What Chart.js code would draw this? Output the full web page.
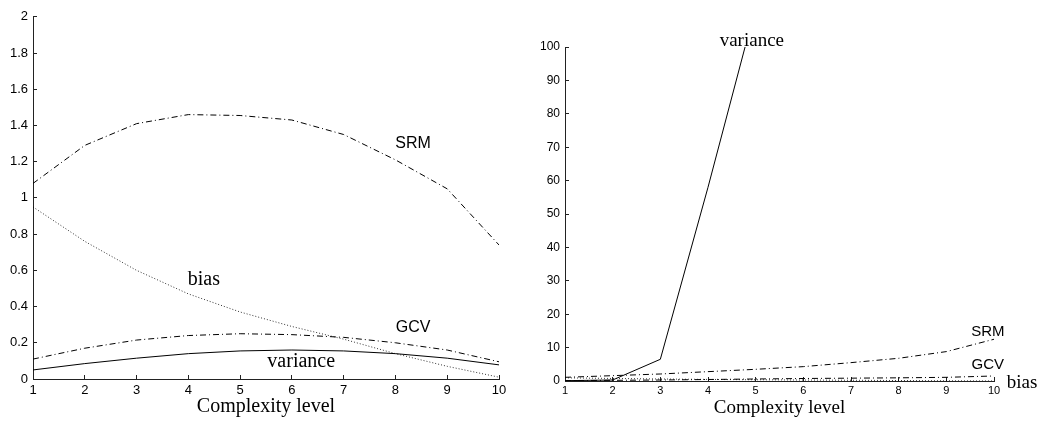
<!DOCTYPE html>
<html>
<head>
<meta charset="utf-8">
<script src="https://cdn.jsdelivr.net/npm/chart.js@4.4.1/dist/chart.umd.min.js"></script>
<style>
    html, body { margin: 0; padding: 0; background: #fff; }
    #wrap { position: relative; width: 1041px; height: 421px; }
    #left-chart { position: absolute; left: 0; top: 0; }
    #right-chart { position: absolute; left: 520px; top: 0; }
</style>
</head>
<body>
<div id="wrap">
    <canvas id="left-chart" width="520" height="421"></canvas>
    <canvas id="right-chart" width="521" height="421"></canvas>
</div>
<script>
////////////////////////////////////////////////////////////////////////////////
// Data
////////////////////////////////////////////////////////////////////////////////

const levels = [1, 2, 3, 4, 5, 6, 7, 8, 9, 10];

// left panel
const leftSrm      = [1.08, 1.29, 1.41, 1.46, 1.455, 1.43, 1.35, 1.21, 1.05, 0.74];
const leftBias     = [0.95, 0.76, 0.60, 0.47, 0.37, 0.29, 0.22, 0.14, 0.07, 0.01];
const leftGcv      = [0.11, 0.17, 0.215, 0.24, 0.25, 0.245, 0.23, 0.20, 0.16, 0.095];
const leftVariance = [0.05, 0.085, 0.115, 0.14, 0.155, 0.16, 0.155, 0.14, 0.115, 0.078];

// right panel (variance runs off the top after level 4)
const rightVariance = [0.1, 0.3, 6.5, 58, 112, null, null, null, null, null];
const rightSrm      = [1.1, 1.6, 2.1, 2.8, 3.5, 4.3, 5.5, 6.8, 8.8, 12.5];
const rightGcv      = [0.1, 0.2, 0.3, 0.45, 0.6, 0.75, 0.85, 0.95, 1.1, 1.5];
const rightBias     = [0.95, 0.76, 0.60, 0.47, 0.37, 0.29, 0.22, 0.14, 0.07, 0.01];

const leftYTicks = { max: 2, step: 0.2 };
const rightYTicks = { max: 100, step: 10 };

////////////////////////////////////////////////////////////////////////////////
// Helpers
////////////////////////////////////////////////////////////////////////////////

const SANS = '"Liberation Sans", Arial, sans-serif';
const SERIF = '"Liberation Serif", "Times New Roman", serif';
const DASHDOT = [6, 3, 1, 3];
const DOTTED = [1, 2];

function points(values) {
    return levels.map((lv, i) => ({ x: lv, y: values[i] }));
}

function line(values, dash, width) {
    return {
        data: points(values),
        borderColor: '#000',
        borderWidth: width || 1,
        borderDash: dash || [],
        pointRadius: 0,
        tension: 0,
        fill: false
    };
}

// MATLAB style labels: 2 not 2.0
function plainNumber(v) {
    return String(Number(v.toFixed(1)));
}

// text labels placed at data coordinates
const notesPlugin = {
    id: 'notes',
    afterDatasetsDraw(chart, args, opts) {
        const { ctx, scales } = chart;
        ctx.save();
        ctx.fillStyle = '#000';
        ctx.textAlign = 'center';
        ctx.textBaseline = 'middle';
        (opts.items || []).forEach(n => {
            ctx.font = n.font;
            ctx.fillText(n.text, scales.x.getPixelForValue(n.x), scales.y.getPixelForValue(n.y));
        });
        ctx.restore();
    }
};

function buildChart(canvasId, datasets, yTicks, cfg) {
    return new Chart(document.getElementById(canvasId), {
        type: 'line',
        data: { datasets: datasets },
        plugins: [notesPlugin],
        options: {
            responsive: false,
            animation: false,
            layout: { padding: cfg.padding },
            plugins: {
                legend: { display: false },
                tooltip: { enabled: false },
                notes: { items: cfg.notes }
            },
            scales: {
                x: {
                    type: 'linear',
                    min: 1,
                    max: 10,
                    afterFit: s => { s.height = cfg.xHeight; },
                    border: { display: true, color: '#222', width: 1 },
                    grid: { drawOnChartArea: false, tickLength: -4, color: '#222' },
                    ticks: {
                        stepSize: 1,
                        padding: cfg.xPad,
                        maxRotation: 0,
                        color: '#000',
                        font: { family: SANS, size: cfg.xTickSize }
                    },
                    title: {
                        display: true,
                        text: 'Complexity level',
                        color: '#000',
                        font: { family: SERIF, size: cfg.titleSize },
                        padding: { top: 0, bottom: cfg.titlePad }
                    }
                },
                y: {
                    min: 0,
                    max: yTicks.max,
                    afterFit: s => { s.width = cfg.yWidth; },
                    border: { display: true, color: '#222', width: 1 },
                    grid: { drawOnChartArea: false, tickLength: -4, color: '#222' },
                    ticks: {
                        stepSize: yTicks.step,
                        padding: 9,
                        color: '#000',
                        font: { family: SANS, size: cfg.yTickSize },
                        callback: plainNumber
                    }
                }
            }
        }
    });
}

////////////////////////////////////////////////////////////////////////////////
// Left panel
////////////////////////////////////////////////////////////////////////////////

let leftChart = buildChart('left-chart', [
    line(leftSrm, DASHDOT),
    line(leftBias, DOTTED, 0.8),
    line(leftGcv, DASHDOT),
    line(leftVariance)
], leftYTicks, {
    padding: { left: 0, top: 13, right: 21, bottom: 0 },
    xHeight: 42,
    yWidth: 33,
    xPad: 8,
    xTickSize: 13,
    yTickSize: 13,
    titleSize: 20,
    titlePad: 2,
    notes: [
        { text: 'SRM', x: 8.34, y: 1.30, font: '16px ' + SANS },
        { text: 'bias', x: 4.30, y: 0.546, font: '20px ' + SERIF },
        { text: 'GCV', x: 8.34, y: 0.284, font: '16px ' + SANS },
        { text: 'variance', x: 6.18, y: 0.093, font: '20px ' + SERIF }
    ]
});

////////////////////////////////////////////////////////////////////////////////
// Right panel
////////////////////////////////////////////////////////////////////////////////

let rightChart = buildChart('right-chart', [
    line(rightVariance),
    line(rightSrm, DASHDOT),
    line(rightGcv, DASHDOT),
    line(rightBias, DOTTED, 0.8)
], rightYTicks, {
    padding: { left: 0, top: 47, right: 47, bottom: 0 },
    xHeight: 40,
    yWidth: 45,
    xPad: 7,
    xTickSize: 11,
    yTickSize: 12,
    titleSize: 19,
    titlePad: 2,
    notes: [
        { text: 'variance', x: 4.92, y: 101.8, font: '19px ' + SERIF },
        { text: 'SRM', x: 9.87, y: 14.7, font: '15px ' + SANS },
        { text: 'GCV', x: 9.87, y: 4.8, font: '15px ' + SANS },
        { text: 'bias', x: 10.59, y: -0.6, font: '19px ' + SERIF }
    ]
});
</script>
</body>
</html>
